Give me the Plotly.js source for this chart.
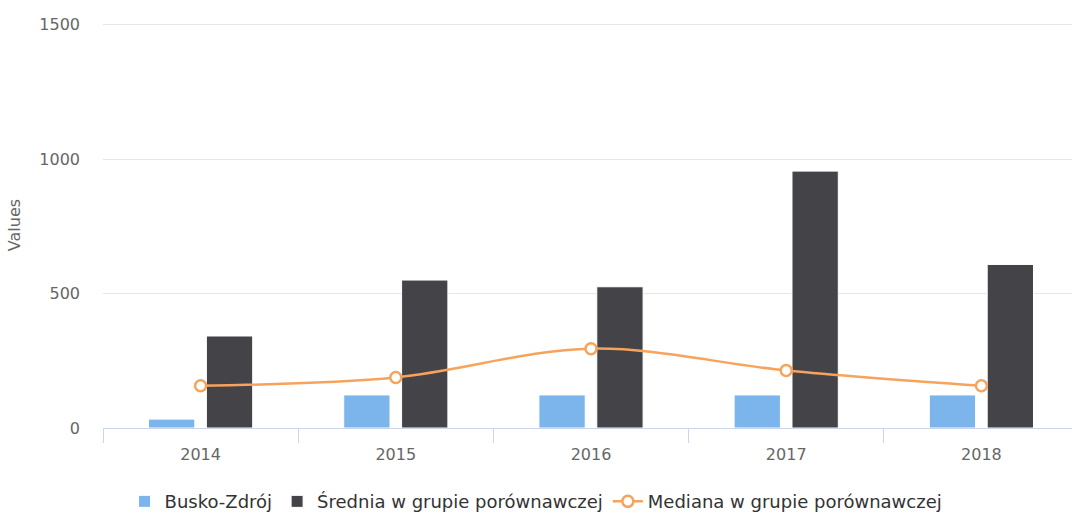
<!DOCTYPE html>
<html>
<head>
<meta charset="utf-8">
<script src="https://cdn.plot.ly/plotly-3.0.1.min.js"></script>
<style>
html,body{margin:0;padding:0;background:#fff;overflow:hidden;}
#wrap{width:1072px;height:514px;overflow:hidden;}
#chart{width:1079px;height:514px;}
</style>
</head>
<body>
<div id="wrap"><div id="chart"></div></div>
<script>
const years = ["2014", "2015", "2016", "2017", "2018"];
const buskoZdroj = [33, 123, 123, 123, 123];
const srednia = [342, 550, 525, 955, 608];
const mediana = [157, 188, 295, 214, 157];
const seriesNames = ["Busko-Zdrój", "Średnia w grupie porównawczej", "Mediana w grupie porównawczej"];
const yTicks = [0, 500, 1000, 1500];

const font = "DejaVu Sans, Verdana, sans-serif";

const traces = [
  {
    type: "bar", name: seriesNames[0], x: years, y: buskoZdroj,
    marker: {color: "#7cb5ec", line: {color: "#ffffff", width: 1}},
    hoverinfo: "x+y+name"
  },
  {
    type: "bar", name: seriesNames[1], x: years, y: srednia,
    marker: {color: "#434348", line: {color: "#ffffff", width: 1}},
    hoverinfo: "x+y+name"
  },
  {
    type: "scatter", mode: "lines+markers", name: seriesNames[2], x: years, y: mediana,
    line: {color: "#f7a35c", width: 2.5, shape: "spline", smoothing: 1},
    marker: {symbol: "circle", size: 11, color: "#ffffff", line: {color: "#f7a35c", width: 2.5}}
  }
];

const layout = {
  width: 1079, height: 514,
  margin: {l: 103, r: 0, t: 22, b: 86, autoexpand: false},
  paper_bgcolor: "#ffffff", plot_bgcolor: "#ffffff",
  font: {family: font, color: "#666666", size: 16},
  barmode: "group",
  bargap: 0.407,
  bargroupgap: 0.2,
  showlegend: true,
  legend: {
    orientation: "h", xref: "container", yref: "container",
    x: 0.4968, xanchor: "center", y: 0.024, yanchor: "middle",
    font: {family: font, size: 18, color: "#333333"},
    traceorder: "normal", itemwidth: 30
  },
  xaxis: {
    type: "category",
    showgrid: false, showline: true, linecolor: "#ccd6eb", linewidth: 1,
    ticks: "outside", tickson: "boundaries", ticklen: 14, tickcolor: "#ccd6eb",
    ticklabelstandoff: 12,
    tickfont: {family: font, size: 16, color: "#666666"},
    zeroline: false, fixedrange: true
  },
  yaxis: {
    range: [0, 1509.3], tickvals: yTicks, ticktext: yTicks.map(String),
    showgrid: true, gridcolor: "#e6e6e6", gridwidth: 1,
    showline: false, zeroline: false, ticks: "", ticklabelstandoff: 22,
    tickfont: {family: font, size: 16, color: "#666666"},
    title: {text: "Values", font: {family: font, size: 16, color: "#666666"}, standoff: 14},
    fixedrange: true
  }
};

Plotly.newPlot("chart", traces, layout, {displayModeBar: false});
</script>
</body>
</html>
